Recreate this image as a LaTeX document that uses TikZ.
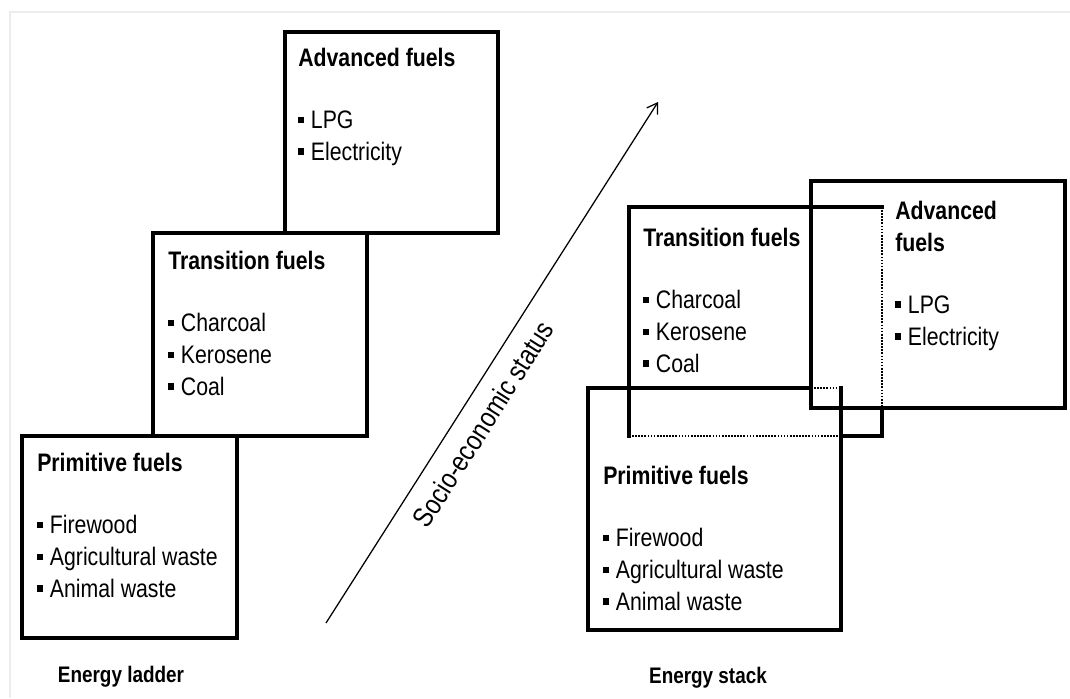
\documentclass[tikz,border=0pt]{standalone}
\usepackage{fontspec}
\setmainfont{Liberation Sans}[FakeStretch=0.84]
\usetikzlibrary{arrows.meta, positioning}

\newcommand{\fuelitem}{\rule[0.2em]{0.24em}{0.26em}\hspace{0.26em}}
\newcommand{\fuelgap}{\\[21pt]}

\tikzset{
	fuelbox/.style = {line width=3pt, line cap=rect, line join=miter},
	hiddenedge/.style = {line width=1.2pt, densely dotted},
	fueltext/.style = {anchor=north west, inner sep=0pt, align=left, font=\fontsize{18}{22.75}\selectfont},
	caption/.style = {inner sep=0pt, font=\bfseries\fontsize{16}{19}\selectfont}
}

\begin{document}
\begin{tikzpicture}[x=0.025cm, y=-0.025cm]
	\useasboundingbox (0,0) rectangle (1070,698);
	\draw [gray!15, line width=0.8pt] (10,698) -- (10,12) -- (1070,12);

	% energy ladder
	\draw [fuelbox] (285,32) rectangle (498,233);
	\draw [fuelbox] (153,233) rectangle (367,436);
	\draw [fuelbox] (22,436) rectangle (237,638);
	\node [fueltext] (ladderAdvanced) at (298,48) {\textbf{Advanced fuels}\fuelgap \fuelitem LPG\\ \fuelitem Electricity};
	\node [fueltext] (ladderTransition) at (168,251) {\textbf{Transition fuels}\fuelgap \fuelitem Charcoal\\ \fuelitem Kerosene\\ \fuelitem Coal};
	\node [fueltext] (ladderPrimitive) at (37,453) {\textbf{Primitive fuels}\fuelgap \fuelitem Firewood\\ \fuelitem Agricultural waste\\ \fuelitem Animal waste};
	\node [caption] (ladderCaption) at (121,677) {Energy ladder};

	% socio-economic status
	\coordinate (statusStart) at (326,623);
	\coordinate (statusEnd) at (658,102);
	\draw [-{Straight Barb[length=7pt, width=9pt]}, line width=0.9pt] (statusStart) -- (statusEnd);
	\node [rotate=57.5, inner sep=0pt, font=\fontsize{20}{24}\selectfont] (statusLabel) at (483,424) {Socio-economic status};

	% energy stack
	\draw [hiddenedge] (882,207) -- (882,408);
	\draw [hiddenedge] (629,436) -- (841,436);
	\draw [hiddenedge] (811,388) -- (841,388);
	\draw [fuelbox] (882,408) -- (882,436) -- (841,436);
	\draw [fuelbox] (629,436) -- (629,207) -- (882,207);
	\draw [fuelbox] (811,181) rectangle (1065,408);
	\draw [fuelbox] (811,388) -- (588,388) -- (588,630) -- (841,630) -- (841,388);
	\node [fueltext] (stackTransition) at (643,228) {\textbf{Transition fuels}\fuelgap \fuelitem Charcoal\\ \fuelitem Kerosene\\ \fuelitem Coal};
	\node [fueltext] (stackAdvanced) at (895,201) {\textbf{Advanced}\\ \textbf{fuels}\fuelgap \fuelitem LPG\\ \fuelitem Electricity};
	\node [fueltext] (stackPrimitive) at (603,466) {\textbf{Primitive fuels}\fuelgap \fuelitem Firewood\\ \fuelitem Agricultural waste\\ \fuelitem Animal waste};
	\node [caption] (stackCaption) at (708,678) {Energy stack};
\end{tikzpicture}
\end{document}
